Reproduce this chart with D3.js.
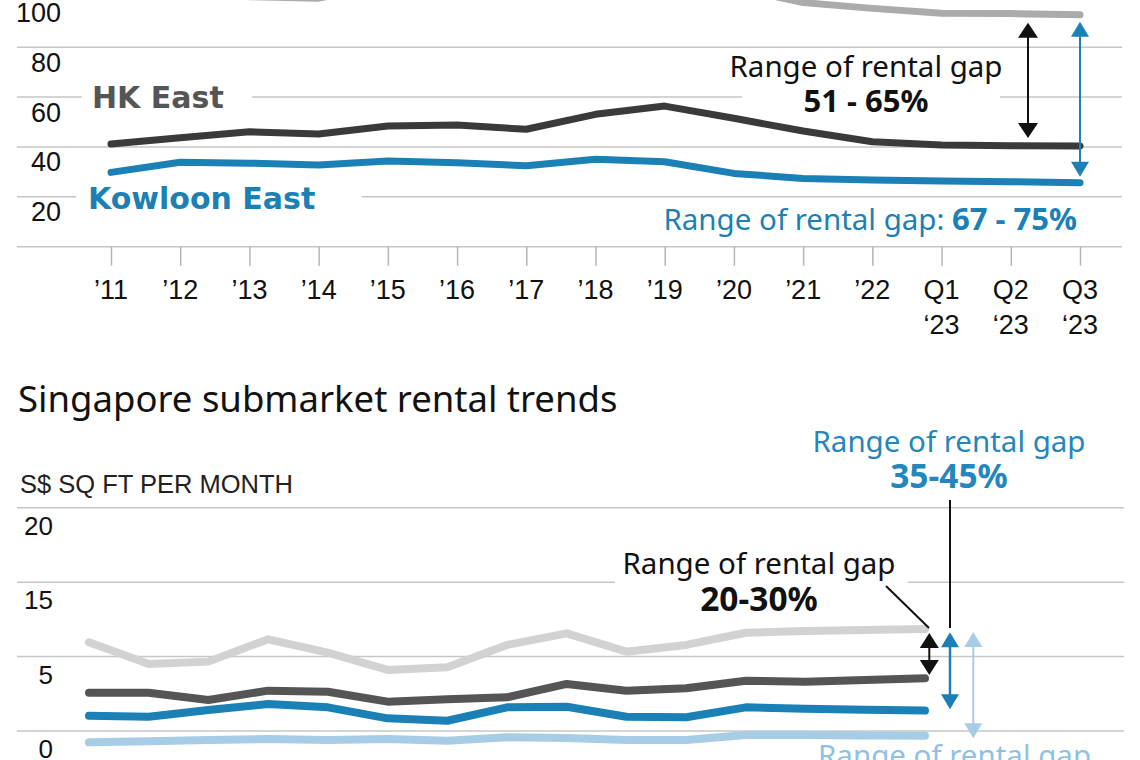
<!DOCTYPE html>
<html>
<head>
<meta charset="utf-8">
<script src="https://cdn.jsdelivr.net/npm/d3@7"></script>
<style>
  body { margin: 0; background: #fff; }
  svg { display: block; }
</style>
</head>
<body>
<div id="chart"></div>
<script>
// ---- data ----
const periods = ['’11', '’12', '’13', '’14', '’15', '’16', '’17', '’18', '’19', '’20', '’21', '’22', 'Q1 ‘23', 'Q2 ‘23', 'Q3 ‘23'];

// Hong Kong, HK$ per sq ft per month
const hkCentral = [104, 106, 100.3, 99.7, 105, 106, 105, 108, 112, 104, 97.9, 95.6, 93.6, 93.5, 93];
const hkEast = [41.2, 43.7, 46.1, 45.2, 48.4, 48.8, 47.1, 53.1, 56.4, 51.5, 46.4, 42.1, 40.8, 40.5, 40.4];
const kowloonEast = [29.8, 33.9, 33.5, 32.8, 34.4, 33.7, 32.5, 35.1, 34.1, 29.4, 27.4, 26.8, 26.4, 26.1, 25.7];
const hkTicks = [20, 40, 60, 80, 100];

// Singapore, S$ per sq ft per month (values on the evenly spaced grid)
const sgCore = [10.96, 9.5, 9.66, 11.16, 10.26, 9.1, 9.28, 10.78, 11.56, 10.33, 10.78, 11.6, 11.72, 11.78, 11.85];
const sgFringe = [7.57, 7.57, 7.08, 7.71, 7.64, 6.97, 7.13, 7.26, 8.16, 7.7, 7.87, 8.38, 8.31, 8.43, 8.54];
const sgDecentralA = [6.03, 5.96, 6.41, 6.81, 6.59, 5.85, 5.69, 6.59, 6.63, 5.96, 5.92, 6.59, 6.5, 6.43, 6.37];
const sgDecentralB = [4.24, 4.31, 4.4, 4.46, 4.4, 4.46, 4.35, 4.58, 4.53, 4.4, 4.4, 4.73, 4.73, 4.7, 4.68];
const sgGrid = [20, 15, 10, 5];
const sgTickLabels = ['20', '15', '5', '0'];

// ---- setup ----
const width = 1140, height = 760;
const gridColor = '#c6c6c6';
const blue = '#1b80b5';
const lightBlue = '#a6cde5';
const axisFont = "'Liberation Sans', Arial, sans-serif";
const annFont = "'Noto Sans', sans-serif";

const svg = d3.select('#chart')
    .append('svg')
    .attr('width', width)
    .attr('height', height);

// double headed arrow
function drawArrow(g, x, y1, y2, color, headW, headH, sw) {
    g.append('line')
        .attr('x1', x).attr('x2', x)
        .attr('y1', y1 + headH - 1).attr('y2', y2 - headH + 1)
        .attr('stroke', color)
        .attr('stroke-width', sw);
    g.append('path')
        .attr('d', `M${x},${y1}L${x - headW / 2},${y1 + headH}L${x + headW / 2},${y1 + headH}Z`)
        .attr('fill', color);
    g.append('path')
        .attr('d', `M${x},${y2}L${x - headW / 2},${y2 - headH}L${x + headW / 2},${y2 - headH}Z`)
        .attr('fill', color);
}

// ================= Hong Kong (top, cropped) =================
const hk = svg.append('g');
const xHk = d3.scalePoint().domain(periods).range([111, 1080]);
const yHk = d3.scaleLinear().domain([0, 100]).range([246.7, -2.6]);

hk.selectAll('.grid')
    .data([0, ...hkTicks])
    .enter()
    .append('line')
    .attr('x1', 17).attr('x2', 1122)
    .attr('y1', d => yHk(d)).attr('y2', d => yHk(d))
    .attr('stroke', gridColor)
    .attr('stroke-width', 1.5);

hk.selectAll('.ylab')
    .data(hkTicks)
    .enter()
    .append('text')
    .attr('x', 61)
    .attr('y', d => yHk(d) + 24.5)
    .attr('text-anchor', 'end')
    .style('font-family', axisFont)
    .style('font-size', '27px')
    .style('fill', '#111')
    .text(d => d);

// x axis ticks + labels
const xAxis = hk.append('g')
    .attr('transform', `translate(0, ${yHk(0)})`)
    .call(d3.axisBottom(xHk).tickSize(19).tickPadding(10).tickFormat(''));
xAxis.select('.domain').remove();
xAxis.selectAll('.tick line').attr('stroke', '#b5b5b5').attr('stroke-width', 1.5);

hk.selectAll('.xlab')
    .data(periods)
    .enter()
    .append('text')
    .attr('x', d => xHk(d))
    .attr('y', 299)
    .attr('text-anchor', 'middle')
    .style('font-family', axisFont)
    .style('font-size', '27px')
    .style('fill', '#111')
    .each(function (d) {
        const parts = d.split(' ');
        const t = d3.select(this);
        parts.forEach((p, i) => {
            t.append('tspan')
                .attr('x', xHk(d))
                .attr('dy', i === 0 ? 0 : 35)
                .text(p);
        });
    });

const hkSeries = [
    { values: hkCentral, color: '#ababab' },
    { values: hkEast, color: '#3a3a3a' },
    { values: kowloonEast, color: blue }
];

const hkLine = d3.line()
    .x((d, i) => xHk(periods[i]))
    .y(d => yHk(d));

hk.selectAll('.series')
    .data(hkSeries)
    .enter()
    .append('path')
    .attr('d', d => hkLine(d.values))
    .attr('fill', 'none')
    .attr('stroke', d => d.color)
    .attr('stroke-width', 7)
    .attr('stroke-linecap', 'round')
    .attr('stroke-linejoin', 'round');

// labels with white backing (they cut the gridlines)
hk.append('rect').attr('x', 82).attr('y', 80).attr('width', 170).attr('height', 34).attr('fill', '#fff');
hk.append('text')
    .attr('x', 92).attr('y', 108)
    .style('font-family', "'DejaVu Sans', sans-serif")
    .style('font-weight', 'bold')
    .style('font-size', '30px')
    .style('fill', '#555')
    .text('HK East');

hk.append('rect').attr('x', 76).attr('y', 181).attr('width', 286).attr('height', 34).attr('fill', '#fff');
hk.append('text')
    .attr('x', 88).attr('y', 209)
    .style('font-family', "'DejaVu Sans', sans-serif")
    .style('font-weight', 'bold')
    .style('font-size', '30px')
    .style('fill', blue)
    .text('Kowloon East');

hk.append('rect').attr('x', 742).attr('y', 52).attr('width', 258).attr('height', 63).attr('fill', '#fff');
const hkNote = hk.append('text')
    .attr('text-anchor', 'middle')
    .style('font-family', annFont)
    .style('font-size', '29.5px')
    .style('fill', '#111');
hkNote.append('tspan').attr('x', 866).attr('y', 77).text('Range of rental gap');
hkNote.append('tspan').attr('x', 866).attr('y', 111.7).style('font-weight', 'bold').style('font-size', '31px').text('51 - 65%');

const hkNote2 = hk.append('text')
    .attr('x', 1077).attr('y', 230)
    .attr('text-anchor', 'end')
    .style('font-family', annFont)
    .style('font-size', '29.5px')
    .style('fill', blue);
hkNote2.append('tspan').text('Range of rental gap: ');
hkNote2.append('tspan').style('font-weight', 'bold').style('font-size', '31px').text('67 - 75%');

const last = periods.length - 1;
drawArrow(hk, 1028, yHk(hkCentral[last]) + 8, yHk(hkEast[last]) - 8, '#111', 20, 15, 2);
drawArrow(hk, 1080, yHk(hkCentral[last]) + 7, yHk(kowloonEast[last]) - 6, blue, 18, 15, 2);

// ================= Singapore (bottom, cropped) =================
const sg = svg.append('g');
const xSg = d3.scalePoint().domain(periods).range([89, 925]);
const ySg = d3.scaleLinear().domain([5, 20]).range([731, 507.7]);

sg.append('text')
    .attr('x', 18).attr('y', 411.5)
    .style('font-family', annFont)
    .style('font-size', '36.5px')
    .style('fill', '#111')
    .text('Singapore submarket rental trends');

sg.append('text')
    .attr('x', 20).attr('y', 493)
    .style('font-family', axisFont)
    .style('font-size', '25.5px')
    .style('fill', '#222')
    .text('S$ SQ FT PER MONTH');

sg.selectAll('.grid')
    .data(sgGrid)
    .enter()
    .append('line')
    .attr('x1', 17).attr('x2', 1124)
    .attr('y1', d => ySg(d)).attr('y2', d => ySg(d))
    .attr('stroke', gridColor)
    .attr('stroke-width', 1.5);

sg.selectAll('.ylab')
    .data(sgGrid)
    .enter()
    .append('text')
    .attr('x', 53)
    .attr('y', d => ySg(d) + 27)
    .attr('text-anchor', 'end')
    .style('font-family', axisFont)
    .style('font-size', '26px')
    .style('fill', '#111')
    .text((d, i) => sgTickLabels[i]);

const sgSeries = [
    { values: sgCore, color: '#d2d2d2' },
    { values: sgFringe, color: '#555555' },
    { values: sgDecentralA, color: blue },
    { values: sgDecentralB, color: lightBlue }
];

const sgLine = d3.line()
    .x((d, i) => xSg(periods[i]))
    .y(d => ySg(d));

sg.selectAll('.series')
    .data(sgSeries)
    .enter()
    .append('path')
    .attr('d', d => sgLine(d.values))
    .attr('fill', 'none')
    .attr('stroke', d => d.color)
    .attr('stroke-width', 8)
    .attr('stroke-linecap', 'round')
    .attr('stroke-linejoin', 'round');

// blue note above
const sgNoteBlue = sg.append('text')
    .attr('text-anchor', 'middle')
    .style('font-family', annFont)
    .style('font-size', '29.5px')
    .style('fill', '#2386bd');
sgNoteBlue.append('tspan').attr('x', 949).attr('y', 451.7).text('Range of rental gap');
sgNoteBlue.append('tspan').attr('x', 949).attr('y', 488).style('font-weight', 'bold').style('font-size', '33.5px').text('35-45%');

// black note, cuts the 15 gridline
sg.append('rect').attr('x', 615).attr('y', 545).attr('width', 293).attr('height', 72).attr('fill', '#fff');
const sgNote = sg.append('text')
    .attr('text-anchor', 'middle')
    .style('font-family', annFont)
    .style('font-size', '29.5px')
    .style('fill', '#111');
sgNote.append('tspan').attr('x', 759).attr('y', 574).text('Range of rental gap');
sgNote.append('tspan').attr('x', 759).attr('y', 611).style('font-weight', 'bold').style('font-size', '33.5px').text('20-30%');

// leader lines
sg.append('line')
    .attr('x1', 886).attr('y1', 586).attr('x2', 929).attr('y2', 628)
    .attr('stroke', '#111').attr('stroke-width', 2);
sg.append('line')
    .attr('x1', 950).attr('y1', 500).attr('x2', 950).attr('y2', 628)
    .attr('stroke', '#111').attr('stroke-width', 2);

const topSg = ySg(sgCore[last]);
drawArrow(sg, 929.3, topSg + 4, ySg(sgFringe[last]) - 3.3, '#111', 19, 15, 2);
drawArrow(sg, 950, topSg + 3.3, ySg(sgDecentralA[last]) - 1.4, blue, 18, 15, 2.5);
drawArrow(sg, 973.3, topSg + 3, ySg(sgDecentralB[last]) + 2.5, lightBlue, 18, 15, 2);

// light blue note, cut off by the bottom edge
sg.append('text')
    .attr('x', 818).attr('y', 766)
    .style('font-family', annFont)
    .style('font-size', '29.5px')
    .style('fill', '#8fc2e0')
    .text('Range of rental gap');
</script>
</body>
</html>
